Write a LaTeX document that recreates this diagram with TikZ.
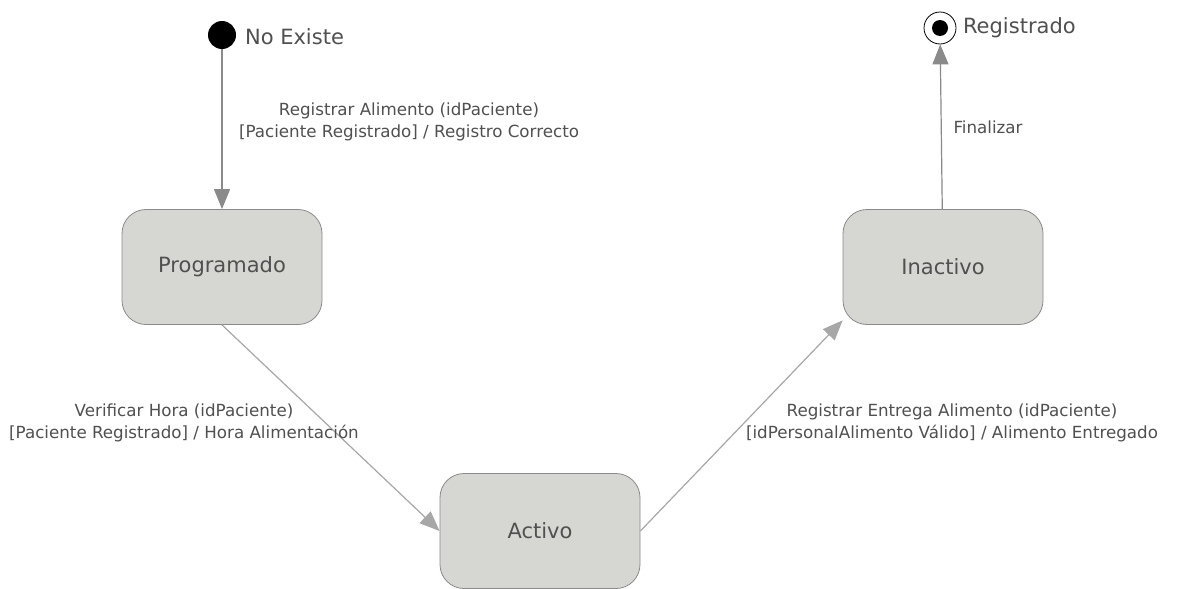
\documentclass[tikz,border=0pt]{standalone}
\usepackage{fontspec}
\setmainfont{DejaVu Sans}
\usetikzlibrary{arrows.meta, positioning, shapes}
\definecolor{statefill}{HTML}{D6D7D2}
\definecolor{edgegray}{HTML}{8A8A8A}
\definecolor{textgray}{HTML}{505050}
\tikzset{
        x=0.5pt, y=-0.5pt, % one unit is one pixel of the drawing
        >={Triangle[length=10pt,width=8pt]}, % big filled arrow heads
        every edge/.style={draw=edgegray, line width=0.6pt}, % transitions
    }
\tikzstyle{estado}=[draw=edgegray,fill=statefill,rounded corners=12pt,minimum width=100pt,minimum height=57.5pt,text=textgray,font=\fontsize{10.5}{12}\selectfont]
\tikzstyle{lbl}=[text=textgray,align=center,font=\fontsize{8.35}{11.3}\selectfont]
\tikzstyle{nombre}=[text=textgray,anchor=west,font=\fontsize{10.5}{12}\selectfont]

\begin{document}
\begin{tikzpicture}
    \useasboundingbox[fill=white] (0,0) rectangle (1179,589);

    % pseudo states
    \node[circle,fill=black,minimum size=14pt,inner sep=0pt] (inicio) at (222,35) {};
    \node[circle,draw=black,fill=white,minimum size=16pt,inner sep=0pt] (fin) at (940,28) {};
    \node[circle,fill=black,minimum size=8pt,inner sep=0pt] at (fin) {};
    \node[nombre] (noexiste) at (238,37) {No Existe};
    \node[nombre] (registrado) at (956,28) {Registrado};

    % states
    \node[estado] (prog) at (222,267) {Programado};
    \node[estado] (activo) at (540,531) {Activo};
    \node[estado] (inact) at (943,267) {Inactivo};

    % transitions
    \path[->] (inicio) edge (prog)
        (prog.south) edge[draw=edgegray!75] (activo.west)
        (activo.east) edge[draw=edgegray!75] (inact.208)
        (inact) edge (fin);

    \node[lbl] (lblreg) at (409,122) {Registrar Alimento (idPaciente)\\{}[Paciente Registrado] / Registro Correcto};
    \node[lbl] (lblver) at (184,423) {Verificar Hora (idPaciente)\\{}[Paciente Registrado] / Hora Alimentación};
    \node[lbl] (lblent) at (952,423) {Registrar Entrega Alimento (idPaciente)\\{}[idPersonalAlimento Válido] / Alimento Entregado};
    \node[lbl] (lblfin) at (988,127) {Finalizar};
\end{tikzpicture}
\end{document}
